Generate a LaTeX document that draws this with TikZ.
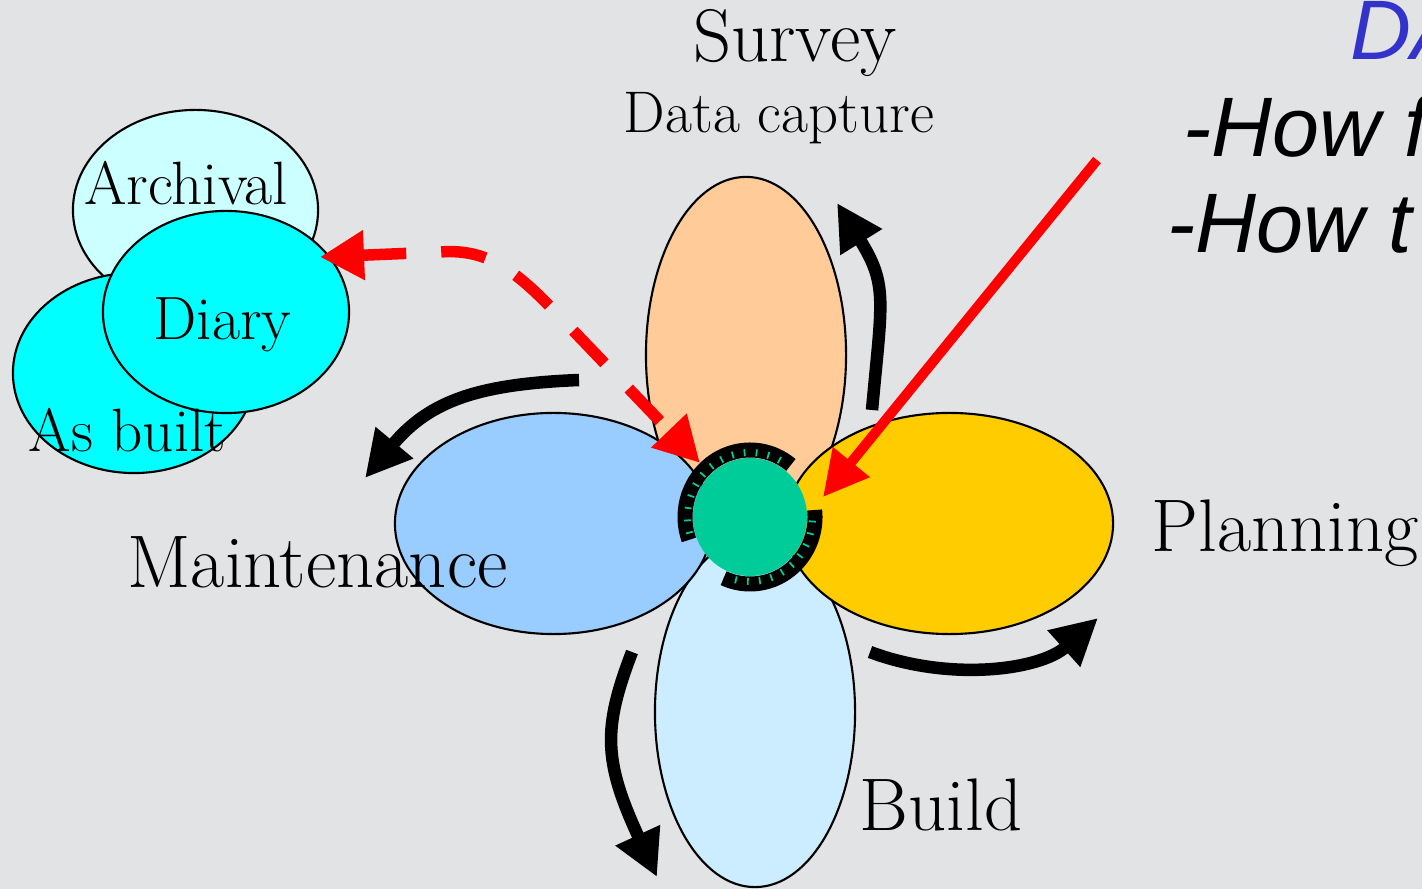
\documentclass[tikz,border=0pt]{standalone}
\usepackage{fontspec}
\newfontfamily\hand{Liberation Sans}
\usetikzlibrary{arrows.meta,shapes.geometric}
\definecolor{bg}{RGB}{226,227,229}
\definecolor{surveyc}{RGB}{255,204,153}
\definecolor{planc}{RGB}{255,204,0}
\definecolor{buildc}{RGB}{204,236,255}
\definecolor{maintc}{RGB}{153,204,255}
\definecolor{hubc}{RGB}{0,204,153}
\definecolor{archc}{RGB}{204,255,255}
\definecolor{cyanc}{RGB}{0,255,255}
\definecolor{redc}{RGB}{255,0,0}
\definecolor{bluec}{RGB}{51,51,204}
\begin{document}
\begin{tikzpicture}[x=0.01cm,y=-0.01cm,
  petal/.style={ellipse,draw=black,line width=0.6pt,inner sep=0pt},
  biglabel/.style={font=\fontsize{21.2}{25}\selectfont,inner sep=0pt,anchor=base},
  smalllabel/.style={font=\fontsize{17.4}{21}\selectfont,inner sep=0pt,anchor=base},
  handtext/.style={font=\hand\itshape\fontsize{24}{28}\selectfont,inner sep=0pt,anchor=base west},
  blackarrow/.style={line width=1.25mm,-{Triangle[length=4.6mm,width=4.6mm]}},
  redarrow/.style={draw=redc,line width=1.0mm,-{Triangle[length=4.5mm,width=4.5mm]},fill=none},
  reddash/.style={draw=redc,line width=1.15mm,dash pattern=on 4.5mm off 3.5mm,{Triangle[length=4.4mm,width=4.7mm]}-{Triangle[length=4.5mm,width=4.6mm]}},
  band/.style={line width=1.5mm,draw=black},
  tickmark/.style={draw=hubc,line width=0.5pt}]
\useasboundingbox (0,0) rectangle (1422,889);
\fill[bg] (0,0) rectangle (1422,889);

% left cluster
\node[petal,fill=archc,minimum width=2.45cm,minimum height=2.0cm] (archival) at (195.5,210) {};
\node[petal,fill=cyanc,minimum width=2.42cm,minimum height=2.0cm] (asbuilt) at (134,373) {};
\node[petal,fill=cyanc,minimum width=2.46cm,minimum height=2.02cm] (diary) at (226,312) {};

% petals
\node[petal,fill=surveyc,minimum width=2.0cm,minimum height=3.56cm] (survey) at (746,355) {};
\node[petal,fill=buildc,minimum width=2.0cm,minimum height=3.5cm] (build) at (755,712) {};
\node[petal,fill=maintc,minimum width=3.17cm,minimum height=2.21cm] (maint) at (553.5,523.5) {};
\node[petal,fill=planc,minimum width=3.27cm,minimum height=2.21cm] (plan) at (949.5,523.5) {};

% hub
\node[ellipse,fill=hubc,inner sep=0pt,minimum width=1.14cm,minimum height=1.18cm] (hub) at (750,517) {};
\draw[band] (hub.center) ++(-51:65 and 67) arc[start angle=-51,end angle=-200,x radius=65,y radius=67];
\draw[band] (hub.center) ++(-6:65 and 67) arc[start angle=-6,end angle=114,x radius=65,y radius=67];
\foreach \a in {-62,-73,...,-195}
  \draw[tickmark] (hub.center) ++(\a:59 and 61) -- ++(\a:7 and 7);
\foreach \a in {4,15,...,108}
  \draw[tickmark] (hub.center) ++(\a:59 and 61) -- ++(\a:7 and 7);

% labels
\node[biglabel] (tsurvey) at (795,62) {Survey};
\node[smalllabel,font=\fontsize{16.7}{20}\selectfont] (tdata) at (779,133) {Data capture};
\node[biglabel] (tplan) at (1285,552) {Planning};
\node[biglabel] (tmaint) at (317.5,588) {Maintenance};
\node[biglabel] (tbuild) at (941,830) {Build};
\node[smalllabel] (tarch) at (186,205) {Archival};
\node[smalllabel] (tdiary) at (222.5,340) {Diary};
\node[smalllabel] (tasb) at (127.5,452) {As built};

% handwritten text (clipped by the page edge)
\node[handtext,text=bluec] (tda) at (1350,60) {DA};
\node[handtext] (thow1) at (1183,157) {-How f};
\node[handtext] (thow2) at (1167,253) {-How t};

% black cycle arrows
\coordinate (s1) at (872,410); \coordinate (s2) at (837,203);
\coordinate (m1) at (579,380); \coordinate (m2) at (365,478);
\coordinate (b1) at (632,652); \coordinate (b2) at (657,877);
\coordinate (p1) at (870,652); \coordinate (p2) at (1098,618);
\draw[blackarrow] (s1) .. controls (882,300) and (888,285) .. (s2);
\draw[blackarrow] (m1) .. controls (480,384) and (430,400) .. (m2);
\draw[blackarrow] (b1) .. controls (603,728) and (603,760) .. (b2);
\draw[blackarrow] (p1) .. controls (950,682) and (1040,670) .. (p2);

% red arrows
\coordinate (r1) at (1097,160); \coordinate (r2) at (823,497);
\draw[redarrow] (r1) -- (r2);
\coordinate (d1) at (320,257); \coordinate (d2) at (700,463);
\draw[reddash] (d1) -- (440,252) .. controls (492,248) and (520,275) .. (565,322) -- (d2);
\end{tikzpicture}
\end{document}
